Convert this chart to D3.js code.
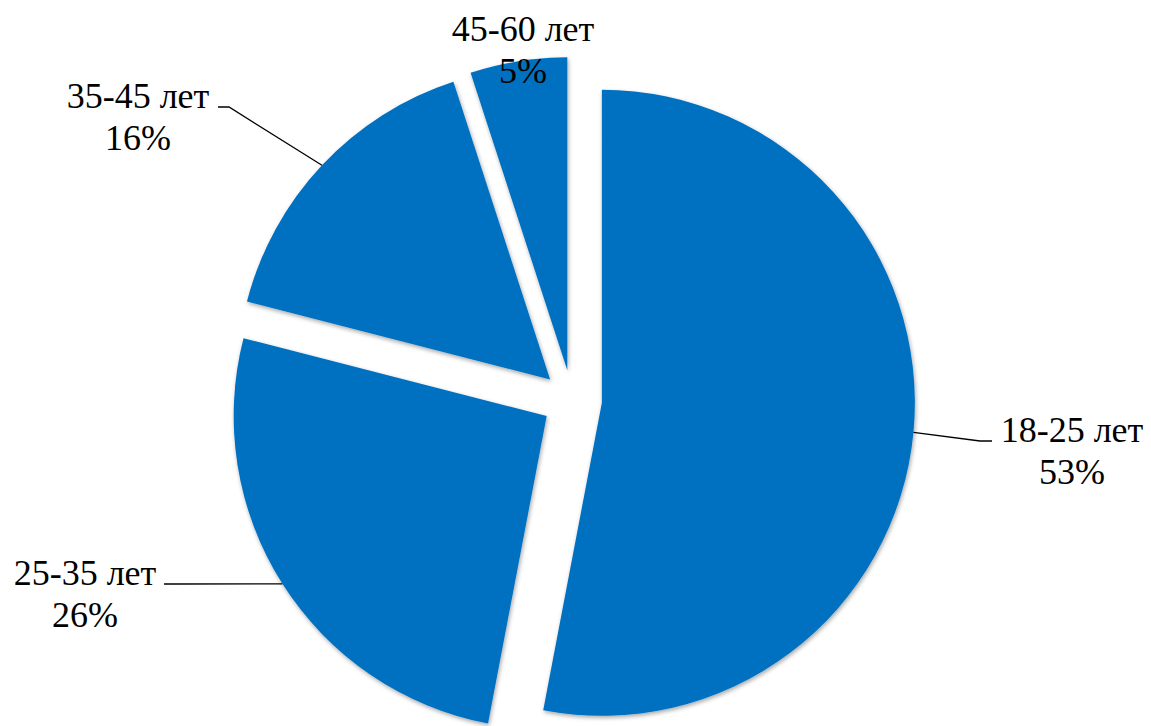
<!DOCTYPE html>
<html>
<head>
    <meta charset="UTF-8">
    <script src="https://d3js.org/d3.v7.min.js"></script>
    <title>Age chart</title>
</head>
<body style="margin:0">
<div id="chart"></div>
<script>
    // data
    var categories = ["18-25 лет", "25-35 лет", "35-45 лет", "45-60 лет"];
    var shares = [53, 26, 16, 5];

    // layout
    var canvasWidth = 1151;
    var canvasHeight = 726;
    var cx = 572, cy = 400;
    var radius = 313;
    var explode = 30;
    // label centre x, first-line baseline y
    var labelAt = [[1072, 442], [85, 585], [138, 108], [523, 41]];
    var hasLeader = [true, true, true, false];
    var labelHalfWidth = [72, 73, 74, 73];

    var svg = d3.select("#chart").append("svg")
        .attr("width", canvasWidth)
        .attr("height", canvasHeight);

    var defs = svg.append("defs");
    var filter = defs.append("filter").attr("id", "shadow")
        .attr("x", "-10%").attr("y", "-10%").attr("width", "120%").attr("height", "120%");
    filter.append("feDropShadow")
        .attr("dx", 1).attr("dy", 2)
        .attr("stdDeviation", 2.2)
        .attr("flood-color", "#000")
        .attr("flood-opacity", 0.35);

    var pie = d3.pie().sort(null).value(function(d){ return d; });
    var arcs = pie(shares);
    var arc = d3.arc().innerRadius(0).outerRadius(radius);

    function shift(d) {
        var mid = (d.startAngle + d.endAngle) / 2;
        return d3.pointRadial(mid, explode);
    }

    var g = svg.append("g").attr("transform", "translate(" + cx + "," + cy + ")");

    g.selectAll(".slice").data(arcs).enter().append("path")
        .attr("class", "slice")
        .attr("d", arc)
        .attr("fill", "#0070C0")
        .attr("filter", "url(#shadow)")
        .attr("transform", function(d){
            var s = shift(d);
            return "translate(" + s[0] + "," + s[1] + ")";
        });

    // leader lines
    arcs.forEach(function(d, i){
        if (!hasLeader[i]) return;
        var mid = (d.startAngle + d.endAngle) / 2;
        var s = shift(d);
        var p = d3.pointRadial(mid, radius);
        var start = [cx + s[0] + p[0], cy + s[1] + p[1]];
        var right = start[0] < labelAt[i][0];
        var endX = right ? labelAt[i][0] - labelHalfWidth[i] - 8 : labelAt[i][0] + labelHalfWidth[i] + 6;
        var endY = labelAt[i][1] - 1;
        var elbowX = right ? endX - 12 : endX + 11;
        svg.append("path")
            .attr("d", d3.line()([start, [elbowX, endY], [endX, endY]]))
            .attr("fill", "none")
            .attr("stroke", "#000")
            .attr("stroke-width", 1.3);
    });

    // labels: two single-line texts per slice
    arcs.forEach(function(d, i){
        var lines = [categories[i], d.data + "%"];
        lines.forEach(function(s, k){
            svg.append("text")
                .attr("text-anchor", "middle")
                .attr("font-family", "Liberation Serif")
                .attr("font-size", "36px")
                .attr("fill", "#000")
                .attr("x", labelAt[i][0])
                .attr("y", labelAt[i][1] + k * 42)
                .text(s);
        });
    });
</script>
</body>
</html>
